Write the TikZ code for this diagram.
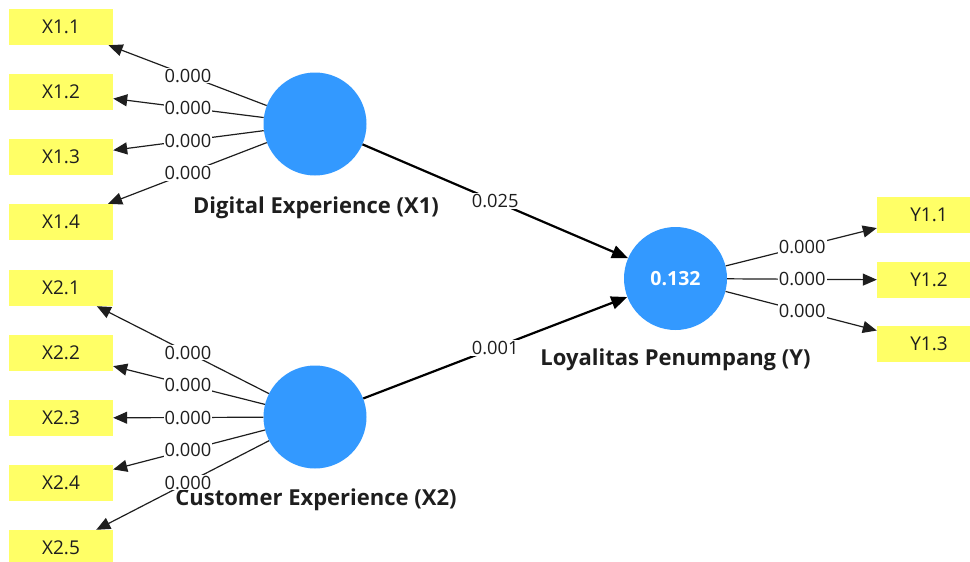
\documentclass[tikz,border=0pt]{standalone}
\usepackage{fontspec}
\setmainfont{Open Sans}
\usetikzlibrary{arrows.meta,calc}
\definecolor{latentblue}{RGB}{51,153,255}
\definecolor{indyellow}{RGB}{255,255,102}
\definecolor{inktext}{RGB}{30,30,30}
\begin{document}
\begin{tikzpicture}[x=1pt,y=-1pt,
  latent/.style={circle,fill=latentblue,minimum size=103pt,inner sep=0pt,text=white,font=\fontsize{19.5}{22}\selectfont\bfseries},
  indicator/.style={rectangle,fill=indyellow,minimum width=104pt,minimum height=36pt,inner sep=0pt,text=inktext,font=\fontsize{19}{22}\selectfont},
  lvname/.style={text=inktext,font=\fontsize{22}{25}\selectfont\bfseries},
  meas/.style={draw=inktext,line width=1.2pt,-{Triangle[length=14pt,width=12pt]}},
  struct/.style={draw=black,line width=2.2pt,-{Triangle[length=16pt,width=13pt]}},
  coef/.style={fill=white,inner sep=1pt,text=inktext,font=\fontsize{18.3}{20}\selectfont}]
\useasboundingbox (0,0) rectangle (970,562);
\begin{scope}
\clip (0,0) rectangle (970,562);
% latent variables
\node[latent] (dx) at (315,124) {};
\node[latent] (cx) at (315,417) {};
\node[latent] (ly) at (675.5,278.5) {0.132};
% indicators
\node[indicator] (x11) at (61,27) {X1.1};
\node[indicator] (x12) at (61,92) {X1.2};
\node[indicator] (x13) at (61,157) {X1.3};
\node[indicator] (x14) at (61,222) {X1.4};
\node[indicator] (x21) at (61,288) {X2.1};
\node[indicator] (x22) at (61,353) {X2.2};
\node[indicator] (x23) at (61,418) {X2.3};
\node[indicator] (x24) at (61,483) {X2.4};
\node[indicator] (x25) at (61,548) {X2.5};
\node[indicator] (y11) at (929,215) {Y1.1};
\node[indicator] (y12) at (929,280) {Y1.2};
\node[indicator] (y13) at (929,344) {Y1.3};
% construct names
\node[lvname] (dxn) at (316,208) {Digital Experience (X1)};
\node[lvname] (cxn) at (316,500) {Customer Experience (X2)};
\node[lvname] (lyn) at (675.5,360) {Loyalitas Penumpang (Y)};
% outer loadings
\foreach \i in {x11,x12,x13,x14} {
  \draw[meas] (dx) -- (\i);
  \node[coef] at ($(dx)!0.5!(\i)$) {0.000};
}
\foreach \i in {x21,x22,x23,x24,x25} {
  \draw[meas] (cx) -- (\i);
  \node[coef] at ($(cx)!0.5!(\i)$) {0.000};
}
\foreach \i in {y11,y12,y13} {
  \draw[meas] (ly) -- (\i);
  \node[coef] at ($(ly)!0.5!(\i)$) {0.000};
}
% path coefficients
\draw[struct] (dx) -- (ly);
\node[coef] at ($(dx)!0.5!(ly)$) {0.025};
\draw[struct] (cx) -- (ly);
\node[coef] at ($(cx)!0.5!(ly)$) {0.001};
\end{scope}
\end{tikzpicture}
\end{document}
